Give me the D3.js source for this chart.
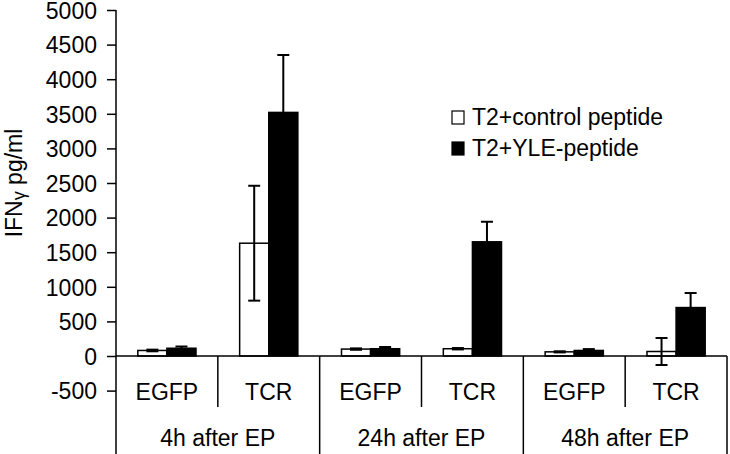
<!DOCTYPE html>
<html>
<head>
<meta charset="utf-8">
<script src="https://cdn.jsdelivr.net/npm/d3@7"></script>
<style>
  body { margin: 0; background: #fff; }
  svg text { font-family: "Liberation Sans", Arial, sans-serif; fill: #000; }
</style>
</head>
<body>
<div class="container"></div>
<script>
const timeGroups = ['4h after EP', '24h after EP', '48h after EP']
const constructs = ['EGFP', 'TCR']
const seriesNames = ['T2+control peptide', 'T2+YLE-peptide']
const controlMeans = [80, 1630, 100, 105, 60, 65]
const controlErrors = [12, 830, 10, 10, 8, 195]
const yleMeans = [112, 3520, 105, 1650, 80, 700]
const yleErrors = [25, 830, 25, 290, 20, 210]
const yTicks = [-500, 0, 500, 1000, 1500, 2000, 2500, 3000, 3500, 4000, 4500, 5000]

const width = 730
const height = 454
const fontSize = 23

const categories = []
timeGroups.forEach((t) => constructs.forEach((c) => categories.push(t + '|' + c)))

const rows = categories.map((key, i) => ({
    key: key,
    values: [
        { series: seriesNames[0], mean: controlMeans[i], err: controlErrors[i] },
        { series: seriesNames[1], mean: yleMeans[i], err: yleErrors[i] }
    ]
}))

const svg = d3.select('.container')
    .append('svg')
    .attr('width', width)
    .attr('height', height)

const xScale = d3.scaleBand()
    .domain(categories)
    .range([116, 727])
    .padding(0)

const xInner = d3.scaleBand()
    .domain(seriesNames)
    .range([0, xScale.bandwidth()])
    .paddingInner(0)
    .paddingOuter(0.75)

const yScale = d3.scaleLinear()
    .domain([0, 5000])
    .range([356, 10])

const colors = d3.scaleOrdinal()
    .domain(seriesNames)
    .range(['#fff', '#000'])

// y axis
const yAxis = svg.append('g')
    .attr('transform', 'translate(116,0)')
    .call(d3.axisLeft(yScale)
        .tickValues(yTicks)
        .tickFormat((d) => String(d))
        .tickSize(9)
        .tickPadding(10))
yAxis.select('.domain').remove()
yAxis.selectAll('.tick line').attr('stroke', '#000').attr('stroke-width', 1.5)
yAxis.selectAll('text')
    .attr('font-size', fontSize + 'px')
    .attr('font-family', '"Liberation Sans", Arial, sans-serif')
    .attr('dy', '0.36em')

svg.append('line')
    .attr('x1', 116).attr('x2', 116)
    .attr('y1', yScale(5000)).attr('y2', height)
    .attr('stroke', '#000').attr('stroke-width', 1.5)

const yTitle = svg.append('text')
    .attr('transform', `translate(22, ${(yScale(0) + yScale(5000)) / 2}) rotate(-90)`)
    .attr('text-anchor', 'middle')
    .attr('font-size', fontSize + 'px')
yTitle.append('tspan').text('IFN')
yTitle.append('tspan').attr('font-size', '18px').attr('dy', 3).text('γ')
yTitle.append('tspan').attr('dy', -3).text(' pg/ml')

// bars
const groups = svg.append('g')
    .selectAll('g')
    .data(rows)
    .enter()
    .append('g')
    .attr('transform', (d) => `translate(${xScale(d.key)},0)`)

groups.selectAll('rect')
    .data((d) => d.values)
    .enter()
    .append('rect')
    .attr('x', (d) => xInner(d.series))
    .attr('y', (d) => yScale(d.mean))
    .attr('width', xInner.bandwidth())
    .attr('height', (d) => yScale(0) - yScale(d.mean))
    .attr('fill', (d) => colors(d.series))
    .attr('stroke', '#000')
    .attr('stroke-width', 1.5)

// error bars
const errs = groups.selectAll('g.err')
    .data((d) => d.values)
    .enter()
    .append('g')
    .attr('class', 'err')
    .attr('transform', (d) => `translate(${xInner(d.series) + xInner.bandwidth() / 2},0)`)

errs.append('line')
    .attr('y1', (d) => yScale(d.mean + d.err))
    .attr('y2', (d) => yScale(d.mean - d.err))
    .attr('stroke', '#000')
    .attr('stroke-width', 2)

errs.selectAll('line.cap')
    .data((d) => [d.mean + d.err, d.mean - d.err])
    .enter()
    .append('line')
    .attr('class', 'cap')
    .attr('x1', -6).attr('x2', 6)
    .attr('y1', (v) => yScale(v))
    .attr('y2', (v) => yScale(v))
    .attr('stroke', '#000')
    .attr('stroke-width', 2)

// zero line
svg.append('line')
    .attr('x1', 116).attr('x2', 727)
    .attr('y1', yScale(0)).attr('y2', yScale(0))
    .attr('stroke', '#000').attr('stroke-width', 1.5)

// category table below the axis
const lineY0 = yScale(0)
svg.append('g')
    .selectAll('line')
    .data(categories.slice(1).concat(['end']))
    .enter()
    .append('line')
    .attr('x1', (d) => d === 'end' ? 727 : xScale(d))
    .attr('x2', (d) => d === 'end' ? 727 : xScale(d))
    .attr('y1', lineY0)
    .attr('y2', (d, i) => (i % 2 === 0 && d !== 'end') ? 407 : height)
    .attr('stroke', '#000')
    .attr('stroke-width', 1.5)

svg.append('g')
    .selectAll('text')
    .data(categories)
    .enter()
    .append('text')
    .attr('x', (d) => xScale(d) + xScale.bandwidth() / 2)
    .attr('y', 400)
    .attr('text-anchor', 'middle')
    .attr('font-size', fontSize + 'px')
    .text((d) => d.split('|')[1])

svg.append('g')
    .selectAll('text')
    .data(timeGroups)
    .enter()
    .append('text')
    .attr('x', (d) => xScale(d + '|' + constructs[0]) + xScale.bandwidth())
    .attr('y', 446)
    .attr('text-anchor', 'middle')
    .attr('font-size', fontSize + 'px')
    .text((d) => d)

// legend
const legend = svg.append('g')
    .attr('transform', 'translate(452,0)')
    .selectAll('g')
    .data(seriesNames)
    .enter()
    .append('g')
    .attr('transform', (d, i) => `translate(0, ${125 + i * 31})`)

legend.append('rect')
    .attr('x', 0)
    .attr('y', -14)
    .attr('width', 12)
    .attr('height', 13)
    .attr('fill', (d) => colors(d))
    .attr('stroke', '#000')
    .attr('stroke-width', 1.2)

legend.append('text')
    .attr('x', 20)
    .attr('y', 0)
    .attr('font-size', fontSize + 'px')
    .text((d) => d)
</script>
</body>
</html>
